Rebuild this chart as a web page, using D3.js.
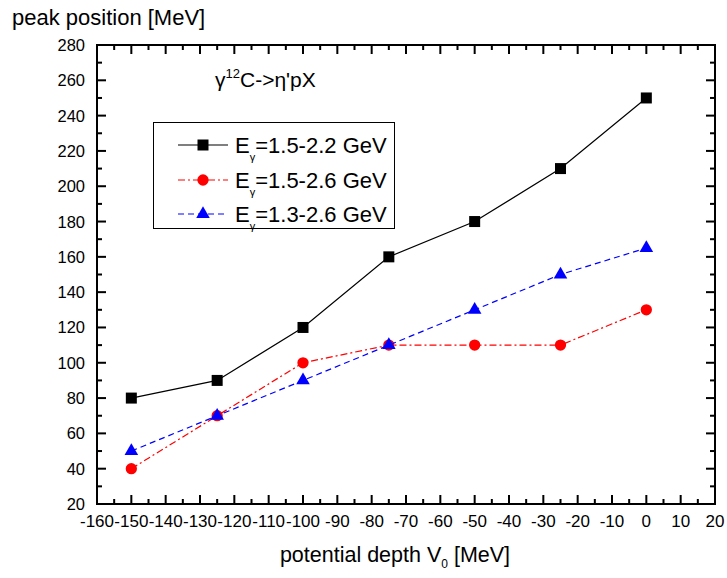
<!DOCTYPE html>
<html>
<head>
<meta charset="utf-8">
<script src="https://cdn.jsdelivr.net/npm/d3@7"></script>
<style>
  html, body { margin: 0; padding: 0; background: #fff; overflow: hidden; }
  svg { display: block; }
  text { font-family: "Liberation Sans", Arial, sans-serif; fill: #000; }
</style>
</head>
<body>
<script>
// potential depth values (x) and peak positions per photon energy range
const depths = [-150, -125, -100, -75, -50, -25, 0]
const peaks_15_22 = [80, 90, 120, 160, 180, 210, 250]
const peaks_15_26 = [40, 70, 100, 110, 110, 110, 130]
const peaks_13_26 = [50, 70, 90, 110, 130, 150, 165]
const seriesNames = ["=1.5-2.2 GeV", "=1.5-2.6 GeV", "=1.3-2.6 GeV"]
const xTicks = d3.range(-160, 21, 10)
const yTicks = d3.range(20, 281, 20)

const width = 727, height = 578
// note: "top" is taken by window.top, so plot edges get a prefix
const pLeft = 97, pRight = 715, pTop = 45, pBottom = 504

const svg = d3.select("body").append("svg")
    .attr("width", width)
    .attr("height", height)

const x = d3.scaleLinear().domain([-160, 20]).range([pLeft, pRight])
const y = d3.scaleLinear().domain([20, 280]).range([pBottom, pTop])

// plain hyphen for negatives, like the original
const fmt = d => String(d)

svg.append("rect")
    .attr("x", pLeft).attr("y", pTop)
    .attr("width", pRight - pLeft).attr("height", pBottom - pTop)
    .attr("fill", "none").attr("stroke", "#000").attr("stroke-width", 2)

// ticks point inward on all four sides, minor ones shorter
const xMinor = d3.range(-155, 20, 10)
const yMinor = d3.range(30, 280, 20)
const tickRects = []
xTicks.forEach(v => {
    tickRects.push([x(v) - 1, pBottom - 9, 2, 9], [x(v) - 1, pTop, 2, 9])
})
xMinor.forEach(v => {
    tickRects.push([x(v) - 1, pBottom - 5, 2, 5], [x(v) - 1, pTop, 2, 5])
})
yTicks.forEach(v => {
    tickRects.push([pLeft, y(v) - 1, 9, 2], [pRight - 9, y(v) - 1, 9, 2])
})
yMinor.forEach(v => {
    tickRects.push([pLeft, y(v) - 1, 5, 2], [pRight - 5, y(v) - 1, 5, 2])
})
svg.append("g").attr("class", "ticks").selectAll("rect").data(tickRects).join("rect")
    .attr("x", d => d[0]).attr("y", d => d[1])
    .attr("width", d => d[2]).attr("height", d => d[3])
    .style("fill", "#000")

svg.append("g").selectAll("text").data(xTicks).join("text")
    .attr("x", d => x(d)).attr("y", pBottom + 23)
    .attr("text-anchor", "middle").attr("font-size", 17)
    .text(fmt)
svg.append("g").selectAll("text").data(yTicks).join("text")
    .attr("x", 85).attr("y", d => y(d) + 6)
    .attr("text-anchor", "end").attr("font-size", 16.5)
    .text(fmt)

const series = [
    {vals: peaks_15_22, color: "#000", dash: null, shape: d3.symbolSquare, size: 121},
    {vals: peaks_15_26, color: "#ff0000", dash: "7,3,2,3", shape: d3.symbolCircle, size: 100},
    {vals: peaks_13_26, color: "#0000ff", dash: "6,4", shape: d3.symbolTriangle, size: 80},
]

const line = d3.line().x((d, i) => x(depths[i])).y(d => y(d))

series.forEach(s => {
    svg.append("path")
        .attr("d", line(s.vals))
        .attr("fill", "none")
        .attr("stroke", s.color)
        .attr("stroke-width", 1.2)
        .attr("stroke-dasharray", s.dash)
    svg.selectAll(null).data(s.vals).join("path")
        .attr("transform", (d, i) => `translate(${x(depths[i])},${y(d)})`)
        .attr("d", d3.symbol(s.shape, s.size))
        .attr("fill", s.color)
})

// legend box
svg.append("rect")
    .attr("x", 153.5).attr("y", 122.5).attr("width", 241).attr("height", 106)
    .attr("fill", "#fff").attr("stroke", "#000").attr("stroke-width", 1)

const rowY = [145, 180, 214]
series.forEach((s, i) => {
    const g = svg.append("g").attr("transform", `translate(0,${rowY[i]})`)
    g.append("line").attr("x1", 178).attr("x2", 228).attr("y1", 0).attr("y2", 0)
        .attr("stroke", s.color).attr("stroke-width", 1.2).attr("stroke-dasharray", s.dash)
    g.append("path").attr("transform", "translate(203,0)")
        .attr("d", d3.symbol(s.shape, s.size)).attr("fill", s.color)
    const t = g.append("text").attr("x", 235).attr("y", 8).attr("font-size", 22)
    t.append("tspan").text("E")
    t.append("tspan").attr("dy", 8).attr("font-size", 11).text("γ")
    t.append("tspan").attr("dy", -8).text(seriesNames[i])
})

// reaction label
const r = svg.append("text").attr("x", 215).attr("y", 87).attr("font-size", 21)
r.append("tspan").text("γ")
r.append("tspan").attr("dy", -9).attr("font-size", 13).text("12")
r.append("tspan").attr("dy", 9).text("C->η'pX")

svg.append("text").attr("x", 12).attr("y", 25).attr("font-size", 22).text("peak position [MeV]")

const xt = svg.append("text").attr("x", 395).attr("y", 562).attr("text-anchor", "middle").attr("font-size", 21.5)
xt.append("tspan").text("potential depth V")
xt.append("tspan").attr("dy", 6).attr("font-size", 12).text("0")
xt.append("tspan").attr("dy", -6).text(" [MeV]")
</script>
</body>
</html>
